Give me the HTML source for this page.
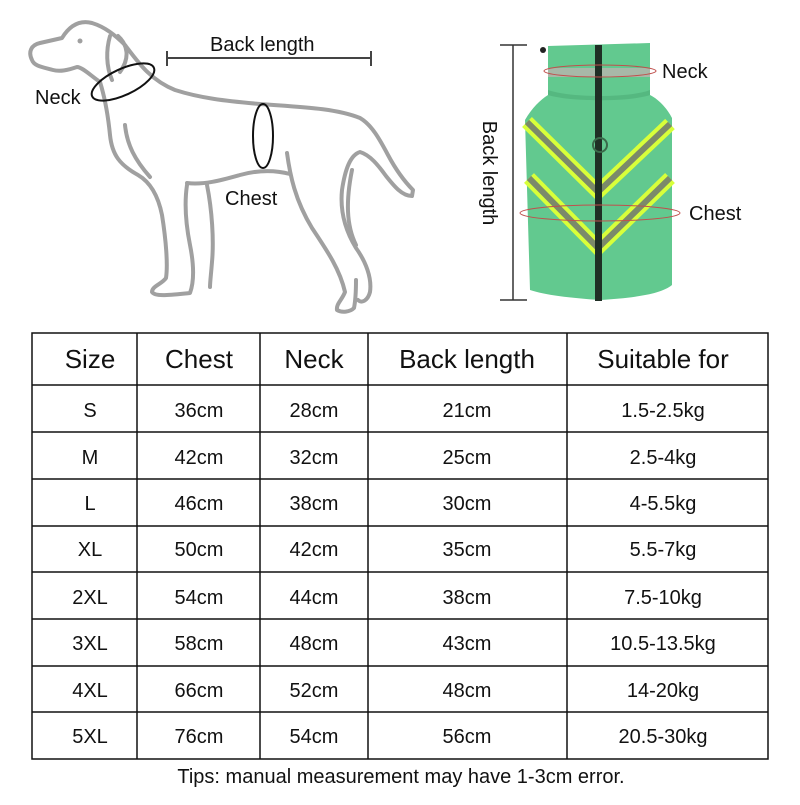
<!DOCTYPE html>
<html><head><meta charset="utf-8"><style>html,body{margin:0;padding:0;background:#fff}</style></head><body>
<svg width="800" height="800" viewBox="0 0 800 800" xmlns="http://www.w3.org/2000/svg" font-family="Liberation Sans, sans-serif">
<rect width="800" height="800" fill="#fff"/>
<!-- dog -->
<g fill="none" stroke="#a0a0a0" stroke-width="4" stroke-linejoin="round" stroke-linecap="round">
<!-- head + back + tail + rear leg -->
<path d="M100,82 C90,75 82,67 77,67 C68,70 60,72 53,70 C42,67 34,66 32,60 C28,52 31,45 40,43 L62,38 C70,25 80,20 92,23 C105,27 115,35 125,45 C138,62 150,80 175,90 C200,98 225,101 260,104 C300,107 335,108 360,118 C372,125 380,140 388,155 C396,170 405,182 413,190 L412,196 C402,196 394,186 386,176 C378,165 370,155 360,152 C350,155 345,170 342,190 C340,210 345,230 356,248 C366,262 372,278 370,292 C368,300 362,304 358,300"/>
<!-- ear -->
<path d="M110,36 C106,50 106,66 112,80"/>
<path d="M118,36 C128,45 130,58 120,72"/>
<!-- chest front + front leg -->
<path d="M100,82 C105,98 108,115 110,135 C112,155 120,165 138,175 C150,182 158,195 162,215 C166,240 168,265 166,278 C162,284 152,286 152,292 C155,297 170,295 190,293 C194,282 194,265 190,245 C186,225 184,205 187,185"/>
<!-- inner front line -->
<path d="M125,125 C127,145 135,160 150,177"/>
<!-- second front leg -->
<path d="M207,185 C212,210 214,240 212,262 C211,275 210,282 210,287"/>
<!-- belly -->
<path d="M187,183 C205,185 222,180 240,175 C258,170 275,170 290,174"/>
<!-- rear leg front -->
<path d="M287,153 C290,175 295,200 312,228 C328,252 340,270 345,292 C342,300 336,304 337,310 C342,313 350,312 354,308 C356,298 356,288 356,280"/>
<path d="M352,170 C346,200 346,225 356,245"/>
<circle cx="80" cy="41" r="2.5" fill="#a0a0a0" stroke="none"/>
</g>
<ellipse cx="123" cy="82" rx="34" ry="13" transform="rotate(-25 123 82)" fill="none" stroke="#111" stroke-width="2"/>
<ellipse cx="263" cy="136" rx="10" ry="32" fill="none" stroke="#111" stroke-width="2"/>
<g stroke="#444" stroke-width="2"><line x1="167" y1="58" x2="371" y2="58"/><line x1="167" y1="51" x2="167" y2="66"/><line x1="371" y1="51" x2="371" y2="66"/></g>
<text x="210" y="51" font-size="20" fill="#111">Back length</text>
<text x="35" y="104" font-size="20" fill="#111">Neck</text>
<text x="225" y="205" font-size="20" fill="#111">Chest</text>
<!-- coat -->
<g stroke="#333" stroke-width="1.5"><line x1="513" y1="45" x2="513" y2="300"/><line x1="500" y1="45" x2="527" y2="45"/><line x1="500" y1="300" x2="527" y2="300"/></g>
<text transform="translate(483,173) rotate(90)" text-anchor="middle" font-size="20" fill="#111">Back length</text>
<path d="M548,46 L650,43 L650,95 C660,100 668,110 672,118 L672,285 C660,295 630,298 600,300 C570,298 545,295 530,290 L525,120 C532,108 540,100 548,95 Z" fill="#62c98f"/>
<path d="M548,90 C570,98 630,98 650,90 L650,95 C630,102 570,102 548,95 Z" fill="#55b880"/>
<rect x="548" y="68" width="102" height="9" fill="#a8b8a8"/>
<g stroke-linecap="butt" fill="none">
<g stroke="#d8ff3a" stroke-width="14"><path d="M527,122 L598,192 L670,124"/><path d="M529,178 L598,248 L670,178"/></g>
<g stroke="#7b8a6a" stroke-width="6"><path d="M527,122 L598,192 L670,124"/><path d="M529,178 L598,248 L670,178"/></g>
</g>
<rect x="595" y="45" width="7" height="256" fill="#1f2f25"/>
<circle cx="600" cy="145" r="7" fill="none" stroke="#3a6a4a" stroke-width="2"/>
<circle cx="543" cy="50" r="3" fill="#222"/>
<ellipse cx="600" cy="71" rx="56" ry="6" fill="none" stroke="#c0504d" stroke-width="1"/>
<ellipse cx="600" cy="213" rx="80" ry="8" fill="none" stroke="#c0504d" stroke-width="1"/>
<text x="662" y="78" font-size="20" fill="#111">Neck</text>
<text x="689" y="220" font-size="20" fill="#111">Chest</text>
<!-- table -->
<g stroke="#111" stroke-width="1.5" fill="none">
<rect x="32" y="333" width="736" height="426"/>
<line x1="137" y1="333" x2="137" y2="759"/><line x1="260" y1="333" x2="260" y2="759"/><line x1="368" y1="333" x2="368" y2="759"/><line x1="567" y1="333" x2="567" y2="759"/>
<line x1="32" y1="385" x2="768" y2="385"/><line x1="32" y1="432" x2="768" y2="432"/><line x1="32" y1="479" x2="768" y2="479"/><line x1="32" y1="526" x2="768" y2="526"/><line x1="32" y1="572" x2="768" y2="572"/><line x1="32" y1="619" x2="768" y2="619"/><line x1="32" y1="666" x2="768" y2="666"/><line x1="32" y1="712" x2="768" y2="712"/>
</g>
<g font-size="26" fill="#111" text-anchor="middle">
<text x="90" y="368">Size</text><text x="199" y="368">Chest</text><text x="314" y="368">Neck</text><text x="467" y="368">Back length</text><text x="663" y="368">Suitable for</text>
</g>
<g font-size="20" fill="#111" text-anchor="middle">
<text x="90" y="417">S</text><text x="199" y="417">36cm</text><text x="314" y="417">28cm</text><text x="467" y="417">21cm</text><text x="663" y="417">1.5-2.5kg</text>
<text x="90" y="464">M</text><text x="199" y="464">42cm</text><text x="314" y="464">32cm</text><text x="467" y="464">25cm</text><text x="663" y="464">2.5-4kg</text>
<text x="90" y="510">L</text><text x="199" y="510">46cm</text><text x="314" y="510">38cm</text><text x="467" y="510">30cm</text><text x="663" y="510">4-5.5kg</text>
<text x="90" y="556">XL</text><text x="199" y="556">50cm</text><text x="314" y="556">42cm</text><text x="467" y="556">35cm</text><text x="663" y="556">5.5-7kg</text>
<text x="90" y="604">2XL</text><text x="199" y="604">54cm</text><text x="314" y="604">44cm</text><text x="467" y="604">38cm</text><text x="663" y="604">7.5-10kg</text>
<text x="90" y="650">3XL</text><text x="199" y="650">58cm</text><text x="314" y="650">48cm</text><text x="467" y="650">43cm</text><text x="663" y="650">10.5-13.5kg</text>
<text x="90" y="697">4XL</text><text x="199" y="697">66cm</text><text x="314" y="697">52cm</text><text x="467" y="697">48cm</text><text x="663" y="697">14-20kg</text>
<text x="90" y="743">5XL</text><text x="199" y="743">76cm</text><text x="314" y="743">54cm</text><text x="467" y="743">56cm</text><text x="663" y="743">20.5-30kg</text>
</g>
<text x="401" y="783" font-size="20" fill="#111" text-anchor="middle">Tips: manual measurement may have 1-3cm error.</text>
</svg>
</body></html>
